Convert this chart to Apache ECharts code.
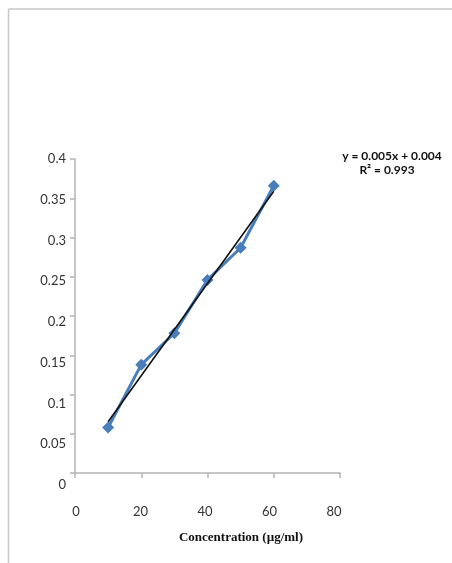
<!DOCTYPE html>
<html>
<head>
<meta charset="utf-8">
<script src="https://cdn.jsdelivr.net/npm/echarts@6/dist/echarts.min.js"></script>
<style>
html,body{margin:0;padding:0;background:#fff;}
#c{width:452px;height:563px;}
</style>
</head>
<body>
<div id="c"></div>
<script>
// Data
const concentration = [10, 20, 30, 40, 50, 60];
const absorbance = [0.058, 0.138, 0.178, 0.246, 0.287, 0.366];
const xTicks = [0, 20, 40, 60, 80];
const yTicks = [0, 0.05, 0.1, 0.15, 0.2, 0.25, 0.3, 0.35, 0.4];
const equationText = 'y = 0.005x + 0.004';
const r2Text = 'R² = 0.993';
const xTitle = 'Concentration (µg/ml)';

// Least-squares trendline from the data
const n = concentration.length;
const mx = concentration.reduce((a, b) => a + b, 0) / n;
const my = absorbance.reduce((a, b) => a + b, 0) / n;
let sxy = 0, sxx = 0;
for (let i = 0; i < n; i++) {
  sxy += (concentration[i] - mx) * (absorbance[i] - my);
  sxx += (concentration[i] - mx) * (concentration[i] - mx);
}
const slope = sxy / sxx;
const intercept = my - slope * mx;
const xMin = Math.min(...concentration), xMax = Math.max(...concentration);
const trend = [[xMin, intercept + slope * xMin], [xMax, intercept + slope * xMax]];

const labelFont = 'Lato, "Open Sans", sans-serif';
const axisGray = '#b4b4b4';

const chart = echarts.init(document.getElementById('c'), null, {renderer: 'canvas'});
chart.setOption({
  animation: false,
  backgroundColor: '#fff',
  grid: [
    {left: 75, right: 112, top: 159, bottom: 90, containLabel: false},
    {left: 76, right: 118, top: 159, bottom: 78, containLabel: false}
  ],
  xAxis: [
    {
      gridIndex: 0, type: 'value', min: xTicks[0], max: xTicks[xTicks.length - 1], interval: 20,
      axisLine: {show: true, lineStyle: {color: axisGray, width: 1.5}},
      axisTick: {show: true, length: 5, lineStyle: {color: axisGray, width: 1.5}},
      axisLabel: {show: false},
      splitLine: {show: false}
    },
    {
      gridIndex: 1, type: 'value', min: xTicks[0], max: xTicks[xTicks.length - 1], interval: 20,
      axisLine: {show: false}, axisTick: {show: false}, splitLine: {show: false},
      axisLabel: {show: true, margin: 20, fontSize: 13, color: '#333', fontFamily: labelFont}
    }
  ],
  yAxis: [
    {
      gridIndex: 0, type: 'value', min: yTicks[0], max: yTicks[yTicks.length - 1], interval: 0.05,
      axisLine: {show: true, lineStyle: {color: axisGray, width: 1.5}},
      axisTick: {show: true, length: 5, lineStyle: {color: axisGray, width: 1.5}},
      axisLabel: {show: false},
      splitLine: {show: false}
    },
    {
      gridIndex: 1, type: 'value', min: yTicks[0], max: yTicks[yTicks.length - 1], interval: 0.05,
      axisLine: {show: false}, axisTick: {show: false}, splitLine: {show: false},
      axisLabel: {show: true, margin: 10, fontSize: 13, color: '#333', fontFamily: labelFont,
        formatter: v => String(+v.toFixed(2))}
    }
  ],
  title: [
    {
      text: xTitle, left: 236, top: 526, textAlign: 'center',
      textStyle: {fontFamily: '"Liberation Serif", "DejaVu Serif", serif', fontWeight: 'bold', fontSize: 13, color: '#111'}
    },
    {
      text: equationText, left: 387, top: 145, textAlign: 'center',
      textStyle: {fontFamily: labelFont, fontWeight: 'bold', fontSize: 12, color: '#111'}
    },
    {
      text: r2Text, left: 382, top: 159, textAlign: 'center',
      textStyle: {fontFamily: labelFont, fontWeight: 'bold', fontSize: 12, color: '#111'}
    }
  ],
  graphic: [
    {type: 'line', shape: {x1: 8.5, y1: 9, x2: 452, y2: 9}, style: {stroke: '#c8c8c8', lineWidth: 1.5}, silent: true},
    {type: 'line', shape: {x1: 8.5, y1: 9, x2: 8.5, y2: 563}, style: {stroke: '#c8c8c8', lineWidth: 1.5}, silent: true}
  ],
  series: [
    {
      name: 'Absorbance', type: 'line', xAxisIndex: 0, yAxisIndex: 0,
      data: concentration.map((x, i) => [x, absorbance[i]]),
      symbol: 'diamond', symbolSize: 12, showSymbol: true,
      lineStyle: {color: '#4a7ebb', width: 3},
      itemStyle: {color: '#4a7ebb'},
      z: 2
    },
    {
      name: 'Linear', type: 'line', xAxisIndex: 0, yAxisIndex: 0,
      data: trend, symbol: 'none',
      lineStyle: {color: '#111', width: 1.6},
      z: 3
    }
  ]
});
</script>
</body>
</html>
